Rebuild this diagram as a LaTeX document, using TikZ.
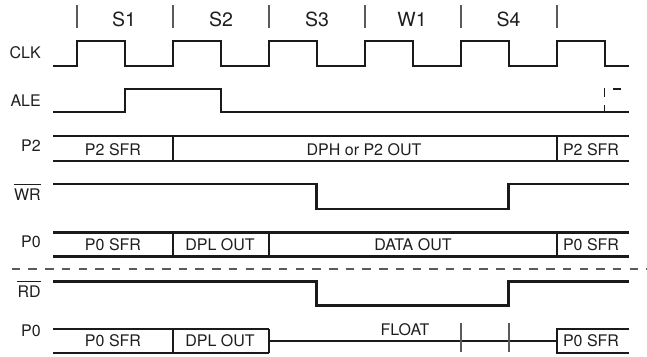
\documentclass[tikz,border=0pt]{standalone}
\usepackage{fontspec}
\setmainfont{TeX Gyre Heros}
\definecolor{txt}{HTML}{1E1E1E}
\definecolor{tickgray}{HTML}{5A5A5A}
\definecolor{sigc}{HTML}{1A1A1A}
\tikzset{
  sig/.style={line width=2.3pt, draw=sigc, line join=miter},
  tickmark/.style={line width=1.3pt, draw=tickgray},
  lbl/.style={font=\fontsize{16}{16}\selectfont, text=txt, inner sep=0pt, anchor=base east},
  buslbl/.style={font=\fontsize{16}{16}\selectfont, text=txt, inner sep=0pt, anchor=base},
  hdr/.style={font=\fontsize{19.5}{19.5}\selectfont, text=txt, inner sep=0pt, anchor=base},
  ovl/.style={line width=1.2pt, draw=txt}
}
\begin{document}
\begin{tikzpicture}[x=1pt,y=-1pt]
\useasboundingbox (0,0) rectangle (647,356);
% header ticks and state labels
\foreach \t in {77,173,269,365,461,557} \draw[tickmark] (\t,5) -- (\t,28.3);
\node[hdr] (s1) at (124,26.7) {S1};
\node[hdr] (s2) at (221,26.7) {S2};
\node[hdr] (s3) at (317,26.7) {S3};
\node[hdr] (w1) at (412,26.7) {W1};
\node[hdr] (s4) at (508.5,26.7) {S4};
% left labels
\node[lbl] (lclk) at (41,58.3) {CLK};
\node[lbl] (lale) at (41,106) {ALE};
\node[lbl] (lp2) at (41,151.7) {P2};
\node[lbl] (lwr) at (41,200) {WR};
\draw[ovl] (lwr.west |- 0,184.3) -- (lwr.east |- 0,184.3);
\node[lbl] (lp0a) at (41,247.5) {P0};
\node[lbl] (lrd) at (41,297.3) {RD};
\draw[ovl] (lrd.west |- 0,281.3) -- (lrd.east |- 0,281.3);
\node[lbl] (lp0b) at (41,336.7) {P0};
% CLK
\draw[sig] (53,65.7) foreach \t in {77,173,269,365,461,557} { -- (\t,65.7) -- (\t,41) -- (\t+48,41) -- (\t+48,65.7) } -- (629,65.7);
% ALE
\draw[sig] (53,112.3) -- (125,112.3) -- (125,89.3) -- (221,89.3) -- (221,112.3) -- (629,112.3);
\draw[line width=1.8pt, draw=sigc] (604.5,87.5) -- (604.5,96.5);
\draw[line width=1.8pt, draw=sigc] (604.5,105) -- (604.5,112.3);
\draw[line width=1.6pt, draw=sigc] (613,89) -- (621,89);
% P2 bus
\draw[sig] (53,136) -- (629,136);
\draw[sig] (53,161) -- (629,161);
\foreach \d in {173,557} \draw[sig] (\d,136) -- (\d,161);
\node[buslbl] (p2a) at (113,155.7) {P2 SFR};
\node[buslbl] (p2b) at (364,155.7) {DPH or P2 OUT};
\node[buslbl] (p2c) at (591,155.7) {P2 SFR};
% WR
\draw[sig] (53,184.3) -- (316.5,184.3) -- (316.5,209) -- (508.5,209) -- (508.5,184.3) -- (629,184.3);
% P0 write
\draw[sig] (53,232.5) -- (629,232.5);
\draw[sig] (53,256.5) -- (629,256.5);
\foreach \d in {173,269,557} \draw[sig] (\d,232.5) -- (\d,256.5);
\node[buslbl] (p0a) at (113,250) {P0 SFR};
\node[buslbl] (p0b) at (220,250) {DPL OUT};
\node[buslbl] (p0c) at (413,250) {DATA OUT};
\node[buslbl] (p0d) at (591,250) {P0 SFR};
% separator
\draw[dash pattern=on 8.5pt off 8.2pt, line width=1.2pt, draw=tickgray] (11.7,269) -- (647,269);
% RD
\draw[sig] (53,281.5) -- (316.5,281.5) -- (316.5,305.5) -- (508.5,305.5) -- (508.5,281.5) -- (629,281.5);
% P0 read
\draw[sig] (53,329.3) -- (269,329.3);
\draw[sig] (53,353.3) -- (269,353.3);
\foreach \d in {173,269} \draw[sig] (\d,329.3) -- (\d,353.3);
\draw[sig] (269,341.3) -- (557,341.3);
\draw[sig] (629,329.3) -- (557,329.3) -- (557,353.3) -- (629,353.3);
\foreach \d in {461,509} \draw[tickmark] (\d,323) -- (\d,352);
\node[buslbl] (fl) at (405,335) {FLOAT};
\node[buslbl] (r0a) at (113,346.7) {P0 SFR};
\node[buslbl] (r0b) at (220,346.7) {DPL OUT};
\node[buslbl] (r0c) at (591,346.7) {P0 SFR};
\end{tikzpicture}
\end{document}
